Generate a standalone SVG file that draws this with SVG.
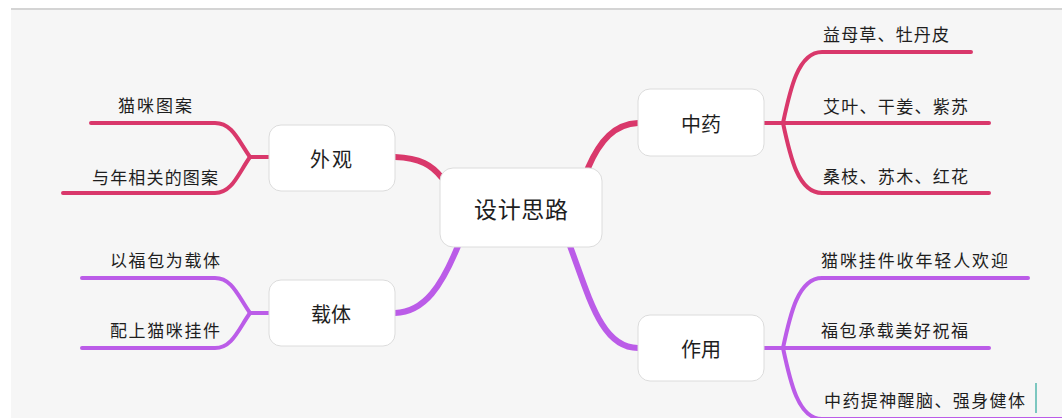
<svg xmlns="http://www.w3.org/2000/svg" width="1062" height="418" viewBox="0 0 1062 418">
<style>
.node rect{fill:#ffffff;stroke:#dcdcdc;stroke-width:1}
text{font-family:"Noto Sans CJK SC","Noto Sans CJK TC",sans-serif;fill:#1e1e1e;dominant-baseline:central}
.nt{font-size:20px;text-anchor:middle}
.lt{font-size:17px}
.red{fill:none;stroke:#d9386b;stroke-linecap:round}
.pur{fill:none;stroke:#bb5ce8;stroke-linecap:round}
.thick{stroke-width:6}
.thin{stroke-width:4}
</style>
<rect x="0" y="0" width="1062" height="418" fill="#ffffff"/>
<rect x="11" y="10" width="1051" height="408" fill="#f6f6f6"/>
<rect x="11" y="8" width="1051" height="2" fill="#d4d4d4"/>
<g id="connectors">
  <path class="red thick" d="M395,157 C420,158 432,165 442,178"/>
  <path class="red thick" d="M588,168 C600,140 615,124 638,123"/>
  <path class="pur thick" d="M395,313 C425,312 442,285 458,246"/>
  <path class="pur thick" d="M570,246 C590,300 602,348 638,348"/>
  <path class="red thin" d="M269,157 H250"/>
  <path class="red thin" d="M250,157 C238,140 232,123 215,123 H91"/>
  <path class="red thin" d="M250,157 C238,174 232,193 215,193 H63"/>
  <path class="red thin" d="M764,123 H989"/>
  <path class="red thin" d="M783,123 C790,90 798,52 822,52 H971"/>
  <path class="red thin" d="M783,123 C790,156 798,193 822,193 H989"/>
  <path class="pur thin" d="M269,313 H250"/>
  <path class="pur thin" d="M250,313 C238,296 232,278 215,278 H82"/>
  <path class="pur thin" d="M250,313 C238,330 232,348 215,348 H82"/>
  <path class="pur thin" d="M764,348 H989"/>
  <path class="pur thin" d="M783,348 C790,315 798,278 822,278 H1028"/>
  <path class="pur thin" d="M783,348 C790,381 798,419 822,419 H1062"/>
</g>
<g id="center" class="node">
  <rect x="440" y="168" width="162" height="79" rx="13"/>
  <text x="521" y="208" font-size="23" text-anchor="middle" textLength="94" lengthAdjust="spacing">设计思路</text>
</g>
<g id="waiguan" class="node">
  <rect x="269" y="125" width="126" height="66" rx="12"/>
  <text class="nt" x="331" y="158" textLength="42" lengthAdjust="spacing">外观</text>
</g>
<g id="zhongyao" class="node">
  <rect x="638" y="89" width="126" height="67" rx="12"/>
  <text class="nt" x="701" y="123" textLength="40" lengthAdjust="spacing">中药</text>
</g>
<g id="zaiti" class="node">
  <rect x="269" y="280" width="126" height="66" rx="12"/>
  <text class="nt" x="331" y="313" textLength="40" lengthAdjust="spacing">载体</text>
</g>
<g id="zuoyong" class="node">
  <rect x="638" y="315" width="126" height="66" rx="12"/>
  <text class="nt" x="701" y="348" textLength="40" lengthAdjust="spacing">作用</text>
</g>
<g id="leaf-maomi-tuan"><text class="lt" x="118" y="104" textLength="74" lengthAdjust="spacing">猫咪图案</text></g>
<g id="leaf-nian-tuan"><text class="lt" x="92" y="176" textLength="126" lengthAdjust="spacing">与年相关的图案</text></g>
<g id="leaf-yimucao"><text class="lt" x="823" y="33" textLength="126" lengthAdjust="spacing">益母草、牡丹皮</text></g>
<g id="leaf-aiye"><text class="lt" x="823" y="105" textLength="145" lengthAdjust="spacing">艾叶、干姜、紫苏</text></g>
<g id="leaf-sangzhi"><text class="lt" x="823" y="175" textLength="145" lengthAdjust="spacing">桑枝、苏木、红花</text></g>
<g id="leaf-fubao"><text class="lt" x="110" y="259" textLength="110" lengthAdjust="spacing">以福包为载体</text></g>
<g id="leaf-peishang"><text class="lt" x="110" y="329" textLength="110" lengthAdjust="spacing">配上猫咪挂件</text></g>
<g id="leaf-guajian"><text class="lt" x="821" y="259" textLength="187" lengthAdjust="spacing">猫咪挂件收年轻人欢迎</text></g>
<g id="leaf-zhufu"><text class="lt" x="821" y="329" textLength="147" lengthAdjust="spacing">福包承载美好祝福</text></g>
<g id="leaf-tishen"><text class="lt" x="824" y="399" textLength="201" lengthAdjust="spacing">中药提神醒脑、强身健体</text></g>
<rect x="1035" y="383" width="2" height="30" fill="#7cc7c0"/>
</svg>
